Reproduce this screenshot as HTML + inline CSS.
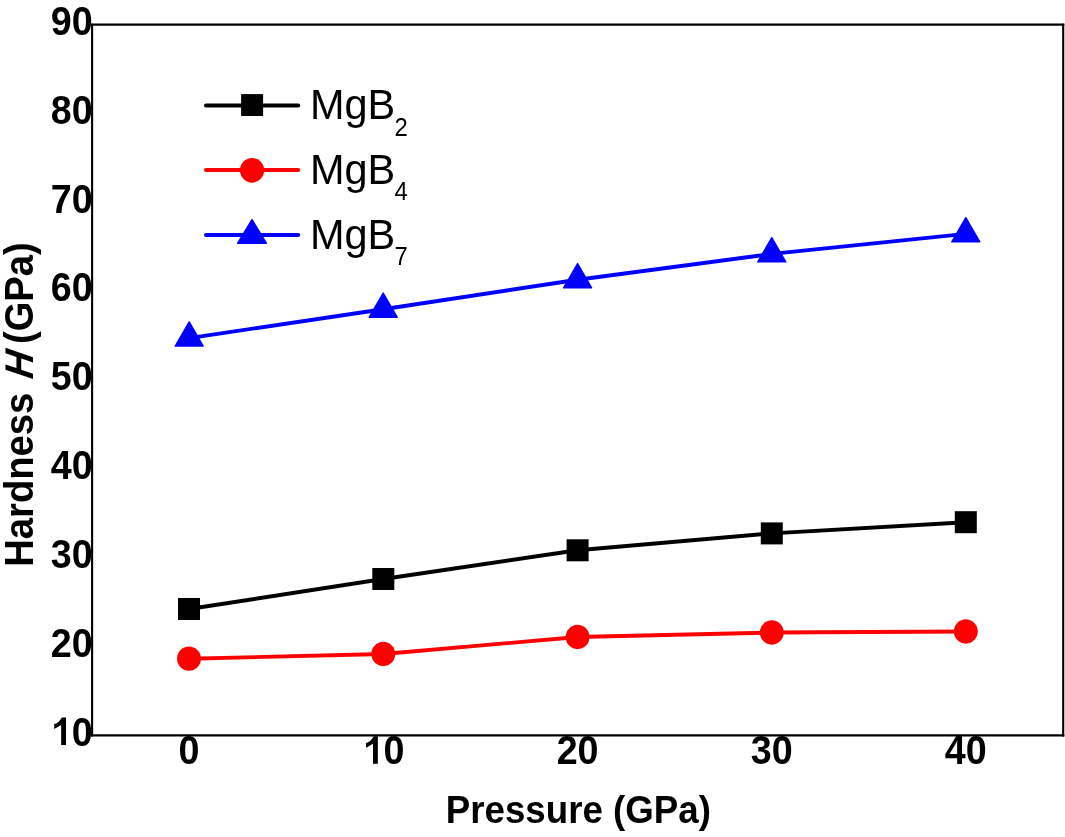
<!DOCTYPE html>
<html><head><meta charset="utf-8"><style>
html,body{margin:0;padding:0;background:#fff;}
svg{display:block;}
text{font-family:"Liberation Sans",sans-serif;}
</style></head><body>
<svg width="1065" height="837" viewBox="0 0 1065 837">
<defs><filter id="gs" x="0" y="0" width="1065" height="837" filterUnits="userSpaceOnUse"><feColorMatrix type="saturate" values="0"/></filter></defs>
<rect x="0" y="0" width="1065" height="837" fill="#fff"/>
<g stroke="#000" stroke-linecap="square" fill="none"><line x1="92.1" y1="24.7" x2="1063.2" y2="24.7" stroke-width="2.2"/><line x1="92.1" y1="735.45" x2="1063.2" y2="735.45" stroke-width="2.3"/><line x1="92.1" y1="24.7" x2="92.1" y2="735.45" stroke-width="2.1"/><line x1="1063.2" y1="24.7" x2="1063.2" y2="735.45" stroke-width="2.1"/></g>
<polyline fill="none" stroke="#000" stroke-width="3.9" stroke-linejoin="round" points="189,609 383.3,579 577.6,550.3 771.8,533.4 965.8,522.2"/>
<polyline fill="none" stroke="#f00" stroke-width="3.9" stroke-linejoin="round" points="189,658.7 383.3,654 577.6,637 771.8,632.5 965.8,631.5"/>
<polyline fill="none" stroke="#00f" stroke-width="3.9" stroke-linejoin="round" points="189.2,338.1 383.2,309.2 577.6,279.8 771.8,253.9 965.8,233.9"/>
<g fill="#000">
<rect x="178.00" y="598.00" width="22" height="22"/>
<rect x="372.30" y="568.00" width="22" height="22"/>
<rect x="566.60" y="539.30" width="22" height="22"/>
<rect x="760.80" y="522.40" width="22" height="22"/>
<rect x="954.80" y="511.20" width="22" height="22"/>
</g><g fill="#f00">
<ellipse cx="189" cy="658.7" rx="11.95" ry="12.15"/>
<ellipse cx="383.3" cy="654" rx="11.95" ry="12.15"/>
<ellipse cx="577.6" cy="637" rx="11.95" ry="12.15"/>
<ellipse cx="771.8" cy="632.5" rx="11.95" ry="12.15"/>
<ellipse cx="965.8" cy="631.5" rx="11.95" ry="12.15"/>
</g><g fill="#00f" stroke="#00f" stroke-width="1.4" stroke-linejoin="round">
<polygon points="189.20,321.90 175.20,346.10 203.20,346.10"/>
<polygon points="383.20,293.00 369.20,317.20 397.20,317.20"/>
<polygon points="577.60,263.60 563.60,287.80 591.60,287.80"/>
<polygon points="771.80,237.70 757.80,261.90 785.80,261.90"/>
<polygon points="965.80,217.70 951.80,241.90 979.80,241.90"/>
</g>
<line x1="206" y1="105.5" x2="298.2" y2="105.5" stroke="#000" stroke-width="4" stroke-linecap="round"/>
<line x1="206" y1="170.0" x2="298.2" y2="170.0" stroke="#f00" stroke-width="4" stroke-linecap="round"/>
<line x1="206" y1="235.1" x2="298.2" y2="235.1" stroke="#00f" stroke-width="4" stroke-linecap="round"/>
<rect x="241.1" y="94.1" width="22" height="21.9" fill="#000"/>
<ellipse cx="252.05" cy="170.3" rx="12.05" ry="12.4" fill="#f00"/>
<polygon points="252,219.5 237.7,243.2 266.3,243.2" fill="#00f" stroke="#00f" stroke-width="1.4" stroke-linejoin="round"/>
<g filter="url(#gs)" fill="#000">
<g font-weight="bold" font-size="41" text-anchor="end">
<text transform="translate(92.7,34.90) scale(0.919,1)">90</text>
<text transform="translate(92.7,123.74) scale(0.919,1)">80</text>
<text transform="translate(92.7,212.58) scale(0.919,1)">70</text>
<text transform="translate(92.7,301.42) scale(0.919,1)">60</text>
<text transform="translate(92.7,390.26) scale(0.919,1)">50</text>
<text transform="translate(92.7,479.10) scale(0.919,1)">40</text>
<text transform="translate(92.7,567.94) scale(0.919,1)">30</text>
<text transform="translate(92.7,656.78) scale(0.919,1)">20</text>
<text transform="translate(92.7,745.62) scale(0.919,1)">0</text>
<path d="M66.00,717.40 L66.00,744.90 L61.15,744.90 L61.15,725.00 L54.20,728.90 L54.20,724.10 Q58.60,723.45 61.80,717.40 Z"/>
</g>
<g font-weight="bold" font-size="41" text-anchor="middle">
<text transform="translate(189.0,764.3) scale(0.919,1)">0</text>
<text transform="translate(393.95,764.3) scale(0.919,1)">0</text>
<path d="M377.85,736.20 L377.85,763.70 L373.00,763.70 L373.00,743.80 L366.05,747.70 L366.05,742.90 Q370.45,742.25 373.65,736.20 Z"/>
<text transform="translate(577.6,764.3) scale(0.919,1)">20</text>
<text transform="translate(771.8,764.3) scale(0.919,1)">30</text>
<text transform="translate(965.8,764.3) scale(0.919,1)">40</text>
</g>
<text transform="translate(578.35,823) scale(0.934,1)" font-weight="bold" font-size="39.3" text-anchor="middle">Pressure (GPa)</text>
<text transform="translate(33,566.8) rotate(-90) scale(0.955,1)" font-weight="bold" font-size="40">Hardness</text>
<text transform="translate(33,381.5) rotate(-90) skewX(-18.6) scale(0.93,1)" font-weight="bold" font-size="40">H</text>
<text transform="translate(33,242.2) rotate(-90) scale(0.955,1)" font-weight="bold" font-size="40" text-anchor="end">(GPa)</text>
<g transform="translate(310,119.0) scale(0.956,1)"><text x="0" y="0" font-size="43.4">MgB</text><text x="88.3" y="16.6" font-size="25">2</text></g>
<g transform="translate(310,183.8) scale(0.956,1)"><text x="0" y="0" font-size="43.4">MgB</text><text x="88.3" y="16.6" font-size="25">4</text></g>
<g transform="translate(310,248.7) scale(0.956,1)"><text x="0" y="0" font-size="43.4">MgB</text><text x="88.3" y="16.6" font-size="25">7</text></g>
</g>
</svg>
</body></html>
